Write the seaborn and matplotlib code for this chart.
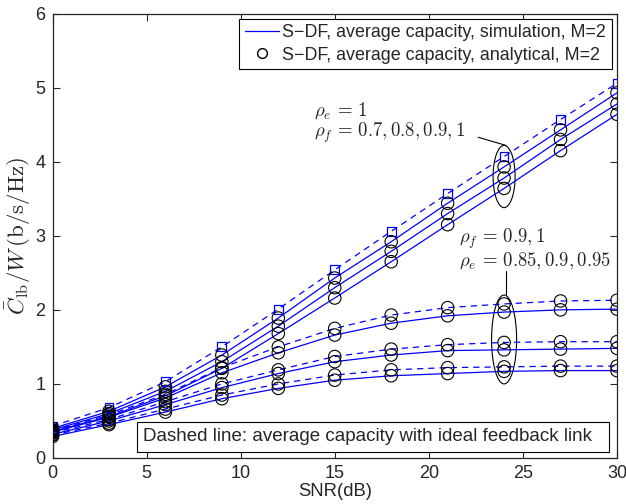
import numpy as np
import pandas as pd
import matplotlib
matplotlib.use('Agg')
import matplotlib.pyplot as plt
from matplotlib.patches import Ellipse, Rectangle
from matplotlib.lines import Line2D
import seaborn as sns

snr = [0, 3, 6, 9, 12, 15, 18, 21, 24, 27, 30]

# rho_e = 1 group
ideal_e1 = [0.43, 0.68, 1.03, 1.50, 2.01, 2.54, 3.06, 3.57, 4.07, 4.57, 5.06]
e1_f09 = [0.40, 0.63, 0.96, 1.39, 1.89, 2.43, 2.92, 3.44, 3.93, 4.43, 4.93]
e1_f08 = [0.38, 0.60, 0.90, 1.30, 1.78, 2.30, 2.79, 3.30, 3.78, 4.30, 4.78]
e1_f07 = [0.36, 0.56, 0.84, 1.21, 1.68, 2.16, 2.65, 3.15, 3.64, 4.15, 4.64]

# rho_f = 0.9, 1 with imperfect estimation
ideal_e095 = [0.37, 0.58, 0.86, 1.22, 1.50, 1.75, 1.93, 2.03, 2.08, 2.12, 2.13]
e095_f09 = [0.35, 0.55, 0.81, 1.15, 1.42, 1.66, 1.82, 1.92, 1.97, 2.00, 2.01]
ideal_e09 = [0.34, 0.52, 0.76, 1.00, 1.19, 1.37, 1.47, 1.53, 1.56, 1.57, 1.57]
e09_f09 = [0.32, 0.50, 0.72, 0.95, 1.14, 1.30, 1.39, 1.45, 1.46, 1.47, 1.48]
ideal_e085 = [0.31, 0.47, 0.66, 0.85, 1.00, 1.12, 1.19, 1.22, 1.23, 1.24, 1.24]
e085_f09 = [0.29, 0.45, 0.62, 0.80, 0.94, 1.05, 1.11, 1.14, 1.17, 1.18, 1.18]

solid_curves = {'e1_f09': e1_f09, 'e1_f08': e1_f08, 'e1_f07': e1_f07,
                'e095_f09': e095_f09, 'e09_f09': e09_f09, 'e085_f09': e085_f09}
dashed_curves = {'ideal_e1': ideal_e1, 'ideal_e095': ideal_e095,
                 'ideal_e09': ideal_e09, 'ideal_e085': ideal_e085}
# analytical circles sit on every curve except the top dashed one
circle_curves = ['e1_f09', 'e1_f08', 'e1_f07', 'ideal_e095', 'e095_f09',
                 'ideal_e09', 'e09_f09', 'ideal_e085', 'e085_f09']

rows = []
for name, vals in {**solid_curves, **dashed_curves}.items():
    for s, v in zip(snr, vals):
        rows.append({'snr': s, 'cap': v, 'curve': name})
df = pd.DataFrame(rows)

sns.set_style('ticks')
plt.rcParams['font.family'] = ['Liberation Sans', 'DejaVu Sans']
plt.rcParams['mathtext.fontset'] = 'cm'

fig = plt.figure(figsize=(6.26, 5.04), dpi=100)
ax = fig.add_axes([0.0839, 0.0913, 0.9017, 0.8817])

blue = '#0000ff'
for name in solid_curves:
    sns.lineplot(data=df[df.curve == name], x='snr', y='cap', color=blue,
                 lw=0.9, ax=ax)
for name in dashed_curves:
    sns.lineplot(data=df[df.curve == name], x='snr', y='cap', color=blue,
                 lw=0.9, ax=ax, linestyle=(0, (5, 4)))

sq = df[df.curve == 'ideal_e1']
sns.scatterplot(data=sq, x='snr', y='cap', marker='s', s=40,
                facecolor='none', edgecolor=blue, linewidth=0.9, ax=ax, zorder=4)

circ = df[df.curve.isin(circle_curves)]
sns.scatterplot(data=circ, x='snr', y='cap', marker='o', s=80,
                facecolor='none', edgecolor='black', linewidth=0.8, ax=ax, zorder=5)

# ellipses and annotations
ax.add_patch(Ellipse((24, 3.80), 1.17, 0.84, fill=False, ec='black', lw=0.8))
ax.add_patch(Ellipse((24, 1.60), 1.33, 1.20, fill=False, ec='black', lw=0.8))
ax.plot([22.63, 24.1], [4.33, 4.22], color='black', lw=0.8)
ax.plot([24.1, 24.1], [2.52, 2.20], color='black', lw=0.8)
ax.text(13.9, 4.69, r'$\rho_e\,=\,1$', fontsize=13.5, va='center')
ax.text(13.9, 4.39, r'$\rho_f\,=\,0.7, 0.8, 0.9, 1$', fontsize=13.5, va='center')
ax.text(21.6, 2.96, r'$\rho_f\,=\,0.9, 1$', fontsize=13.5, va='center')
ax.text(21.6, 2.65, r'$\rho_e\,=\,0.85, 0.9, 0.95$', fontsize=13.5, va='center')

# note box (MATLAB style, wide right margin)
ax.add_patch(Rectangle((4.50, 0.085), 25.08, 0.397, fc='white', ec='black',
                       lw=0.8, zorder=6))
ax.text(4.79, 0.284, 'Dashed line: average capacity with ideal feedback link',
        fontsize=13.5, va='center', zorder=7)

# legend
handles = [Line2D([], [], color=blue, lw=0.9),
           Line2D([], [], marker='o', ls='none', mfc='none', mec='black', ms=7)]
labels = ['S\u2212DF, average capacity, simulation, M=2',
          'S\u2212DF, average capacity, analytical, M=2']
leg = ax.legend(handles, labels, loc='upper right', fontsize=12.9,
                frameon=True, fancybox=False, edgecolor='black',
                framealpha=1, borderaxespad=0.3, borderpad=0.3,
                handlelength=1.9, handletextpad=0.2, labelspacing=0.3)
leg.get_frame().set_linewidth(0.8)

ax.set_xlim(0, 30)
ax.set_ylim(0, 6)
ax.set_xticks([0, 5, 10, 15, 20, 25, 30])
ax.set_yticks([0, 1, 2, 3, 4, 5, 6])
ax.tick_params(direction='in', top=True, right=True, labelsize=13,
               length=5, width=0.8, pad=5)
for sp in ax.spines.values():
    sp.set_visible(True)
    sp.set_linewidth(0.9)
ax.set_xlabel('SNR(dB)', fontsize=13.3, labelpad=1)
ax.set_ylabel(r'$\bar{C}_{\rm lb}/W\,({\rm b/s/Hz})$', fontsize=16.5, labelpad=2)

fig.savefig('out.png', dpi=100)
